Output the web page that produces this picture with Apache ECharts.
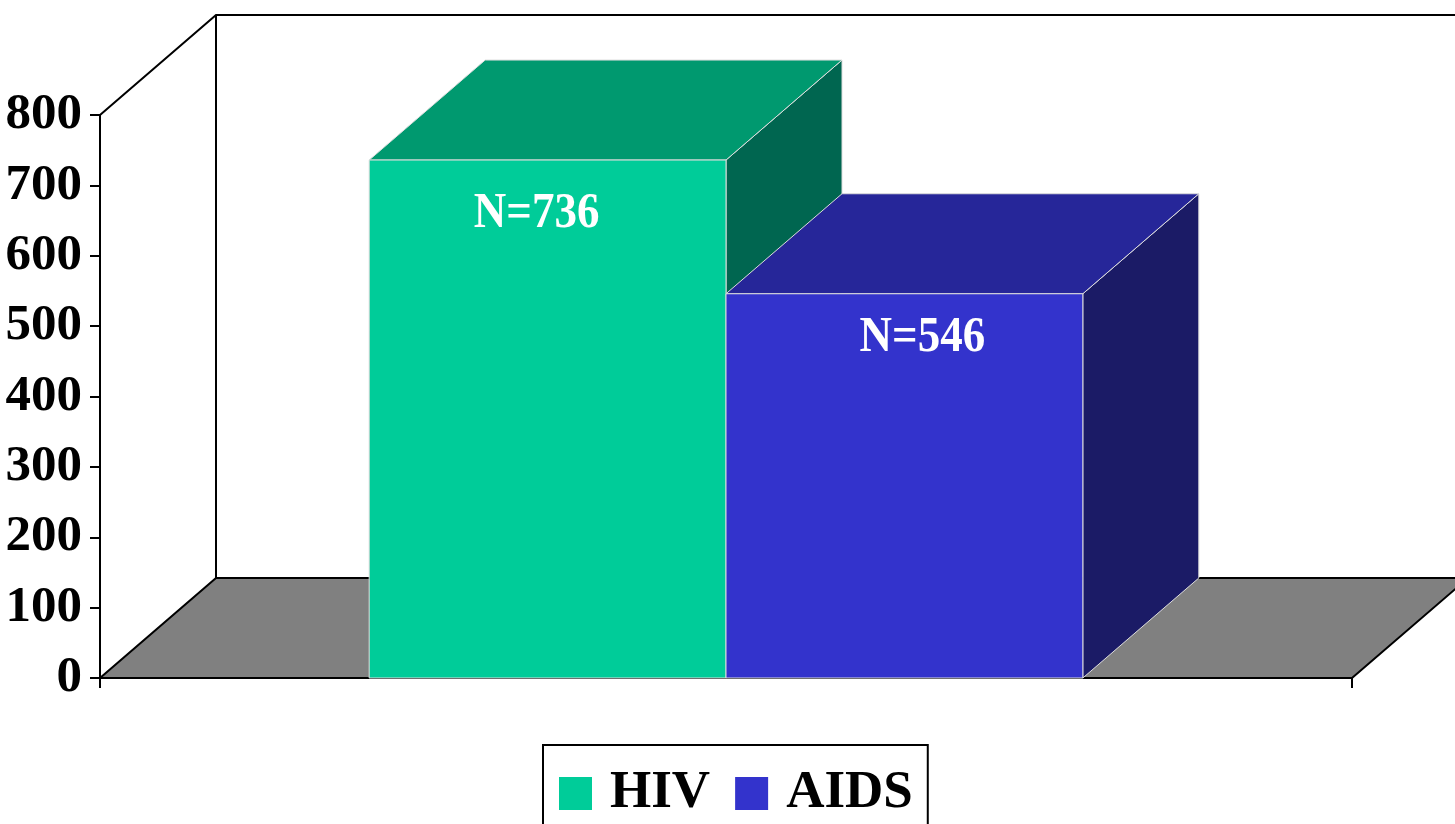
<!DOCTYPE html>
<html>
<head>
<meta charset="utf-8">
<style>
  html, body { margin: 0; padding: 0; background: #fff; }
  #chart { width: 1455px; height: 824px; }
</style>
<script src="https://cdn.jsdelivr.net/npm/echarts@6/dist/echarts.min.js"></script>
</head>
<body>
<div id="chart"></div>
<script>
// 数据
var categories = [''];
var seriesNames = ['HIV', 'AIDS'];
var hivValues = [736];
var aidsValues = [546];
var labelTexts = ['N=736', 'N=546'];

// 颜色 正面 / 顶面 / 侧面
var faceColors = [
  ['#00CC99', '#00996F', '#006650'],
  ['#3333CC', '#262699', '#1B1B66']
];
// 立体纵深偏移
var depthX = 116;
var depthY = -100;
// 标签相对正面中心的偏移
var labelShift = [[-11, 54], [18, 44]];

var chart = echarts.init(document.getElementById('chart'));

// 背景墙和地板
function renderFloor(params, api) {
  var p0 = api.coord([0, 0]);
  var size = api.size([1, 0]);
  var left = p0[0] - size[0] / 2;
  var right = p0[0] + size[0] / 2;
  var bottom = p0[1];
  var top = api.coord([0, 800])[1];
  return {
    type: 'group',
    children: [
      {
        type: 'polygon',
        shape: { points: [[left, bottom], [right, bottom], [right + depthX, bottom + depthY], [left + depthX, bottom + depthY]] },
        style: { fill: '#808080', stroke: '#000', lineWidth: 2 }
      },
      {
        type: 'polyline',
        shape: { points: [[left, top], [left + depthX, top + depthY], [right + depthX + 40, top + depthY]] },
        style: { fill: null, stroke: '#000', lineWidth: 2 }
      },
      {
        type: 'line',
        shape: { x1: left + depthX, y1: top + depthY, x2: left + depthX, y2: bottom + depthY },
        style: { stroke: '#000', lineWidth: 2 }
      }
    ]
  };
}

// 立体柱子
function renderBox(params, api) {
  var idx = params.seriesIndex - 1;
  var val = api.value(1);
  var base = api.coord([api.value(0), 0]);
  var topPt = api.coord([api.value(0), val]);
  var w = api.size([1, 0])[0] * 0.285;
  var x0 = idx === 0 ? base[0] - w : base[0];
  var x1 = x0 + w;
  var yb = base[1];
  var yt = topPt[1];
  var c = faceColors[idx];
  var edge = { stroke: '#dddddd', lineWidth: 1 };
  return {
    type: 'group',
    children: [
      {
        type: 'polygon',
        shape: { points: [[x1, yb], [x1 + depthX, yb + depthY], [x1 + depthX, yt + depthY], [x1, yt]] },
        style: Object.assign({ fill: c[2] }, edge)
      },
      {
        type: 'polygon',
        shape: { points: [[x0, yt], [x1, yt], [x1 + depthX, yt + depthY], [x0 + depthX, yt + depthY]] },
        style: Object.assign({ fill: c[1] }, edge)
      },
      {
        type: 'rect',
        shape: { x: x0, y: yt, width: w, height: yb - yt },
        style: Object.assign({ fill: c[0] }, edge)
      },
      {
        type: 'text',
        x: (x0 + x1) / 2 + labelShift[idx][0],
        y: yt + labelShift[idx][1],
        scaleY: 1.12,
        style: {
          text: labelTexts[idx],
          fill: '#fff',
          font: 'bold 45px "Liberation Serif", "Times New Roman", serif',
          align: 'center',
          verticalAlign: 'middle'
        }
      }
    ]
  };
}

var option = {
  animation: false,
  grid: { left: 100, right: 103, top: 115, bottom: 146 },
  xAxis: {
    type: 'category',
    data: categories,
    axisLine: { show: false },
    axisTick: { show: true, length: 10, lineStyle: { color: '#000', width: 2 } },
    axisLabel: { show: false },
    splitLine: { show: false }
  },
  yAxis: {
    type: 'value',
    min: 0,
    max: 800,
    interval: 100,
    axisLine: { show: true, lineStyle: { color: '#000', width: 2 } },
    axisTick: { show: true, length: 10, lineStyle: { color: '#000', width: 2 } },
    axisLabel: {
      margin: 18,
      color: '#000',
      fontFamily: '"Liberation Serif", "Times New Roman", serif',
      fontWeight: 'bold',
      fontSize: 51
    },
    splitLine: { show: false }
  },
  legend: {
    data: seriesNames,
    bottom: -18,
    left: 543,
    icon: 'rect',
    itemWidth: 33,
    itemHeight: 33,
    itemGap: 25,
    padding: [22, 15, 22, 16],
    borderColor: '#000',
    borderWidth: 2,
    textStyle: {
      color: '#000',
      fontFamily: '"Liberation Serif", "Times New Roman", serif',
      fontWeight: 'bold',
      fontSize: 53,
      padding: [0, 0, 0, 13]
    }
  },
  series: [
    {
      type: 'custom',
      name: 'floor',
      renderItem: renderFloor,
      data: [[0, 0]],
      z: 1,
      silent: true
    },
    {
      type: 'custom',
      name: seriesNames[0],
      color: faceColors[0][0],
      renderItem: renderBox,
      data: hivValues.map(function (v, i) { return [i, v]; }),
      z: 2
    },
    {
      type: 'custom',
      name: seriesNames[1],
      color: faceColors[1][0],
      renderItem: renderBox,
      data: aidsValues.map(function (v, i) { return [i, v]; }),
      z: 3
    }
  ]
};

chart.setOption(option);
</script>
</body>
</html>
